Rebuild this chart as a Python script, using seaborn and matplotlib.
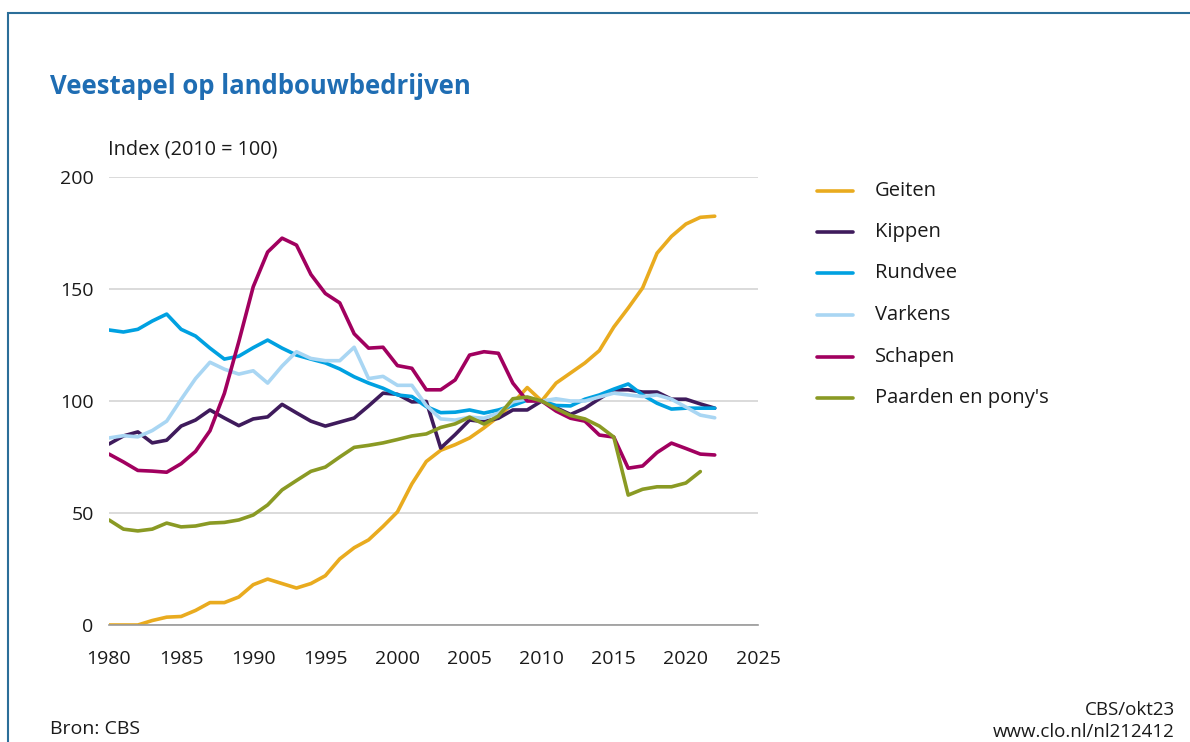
import numpy as np
import pandas as pd
import matplotlib
matplotlib.use("Agg")
from matplotlib import pyplot as plt
from matplotlib.patches import Rectangle
import seaborn as sns

# Data (index 2010 = 100)
years = list(range(1980, 2023))

geiten = [0, 0, 0, 2, 3.5, 3.8, 6.5, 10, 10, 12.5,
          18, 20.5, 18.5, 16.5, 18.5, 22, 29.5, 34.5, 38, 44,
          50.5, 63, 73, 78, 80.5, 83.5, 88, 93, 99, 106,
          100, 108, 112.5, 117, 122.5, 133, 141.5, 150.5, 166, 173.5,
          179, 182, 182.5]
kippen = [80.8, 84.4, 86.2, 81.3, 82.5, 88.8, 91.5, 96, 92.4, 89,
          92, 92.9, 98.5, 94.7, 91, 88.8, 90.6, 92.4, 97.8, 103.5,
          103, 99.6, 99.8, 79, 85, 91.5, 90.8, 92.3, 96, 96,
          100, 97, 94, 96.8, 101, 105, 105, 104, 104, 100.8,
          100.8, 98.7, 96.8]
rundvee = [131.7, 130.8, 132, 135.7, 138.8, 132, 129, 123.6, 118.7, 120,
           123.8, 127.2, 123.6, 120.5, 118.7, 117, 114.3, 110.8, 108, 105.7,
           102.7, 102, 97.5, 94.8, 95, 96, 94.6, 96, 98, 100.4,
           100, 98, 97.8, 100.8, 102.7, 105.3, 107.6, 102.7, 99, 96.4,
           96.8, 96.8, 96.8]
varkens = [83.5, 84.5, 84, 86.8, 91, 100.7, 110, 117.3, 114.2, 112,
           113.5, 108, 115.6, 122, 119, 118, 118, 124, 110, 111,
           107, 107, 98, 92, 91.5, 92.8, 92.3, 94.6, 99.6, 101,
           100, 101, 100, 100, 101.8, 103.5, 102.7, 102, 102.7, 100.8,
           97.3, 93.7, 92.5]
schapen = [76.3, 72.8, 69, 68.7, 68.2, 72, 77.5, 86.7, 103.4, 126.5,
           151, 166.5, 172.7, 169.6, 156.5, 148, 143.8, 130, 123.6, 124,
           115.8, 114.6, 105, 105, 109.4, 120.5, 122, 121.3, 108, 100,
           100, 95.5, 92.3, 91, 84.8, 83.9, 70, 71, 77, 81.2,
           78.8, 76.3, 75.9]
paarden = [46.9, 42.8, 42, 42.8, 45.5, 43.8, 44.2, 45.5, 45.8, 46.9,
           49.1, 53.6, 60.3, 64.5, 68.6, 70.5, 75, 79.3, 80.2, 81.3,
           82.8, 84.4, 85.3, 88.2, 89.8, 92.8, 89.7, 93.3, 101, 101.8,
           100, 96.6, 93.5, 92, 88.8, 83.9, 58, 60.6, 61.7, 61.7,
           63.4, 68.5, np.nan]

series_names = ["Geiten", "Kippen", "Rundvee", "Varkens", "Schapen", "Paarden en pony's"]
colors = ["#e9ab1f", "#3f1b5c", "#00a1e1", "#a9d6f3", "#a1005f", "#8a9a24"]

df = pd.DataFrame({
    "jaar": years * 6,
    "index": geiten + kippen + rundvee + varkens + schapen + paarden,
    "dier": [n for n in series_names for _ in years],
}).dropna()

sns.set_theme(style="white")
plt.rcParams["font.family"] = ["Open Sans", "DejaVu Sans"]

fig = plt.figure(figsize=(11.9, 7.42), dpi=100)
ax = fig.add_axes([109 / 1190, 1 - 625 / 742, (758 - 109) / 1190, (625 - 177) / 742])

sns.lineplot(data=df, x="jaar", y="index", hue="dier", hue_order=series_names,
             palette=colors, linewidth=2.6, ax=ax, legend=False)

ax.set_xlim(1980, 2025)
ax.set_ylim(0, 200)
ax.set_xticks(range(1980, 2026, 5))
ax.set_yticks([0, 50, 100, 150, 200])
ax.set_xlabel("")
ax.set_ylabel("")
ax.grid(axis="y", color="#d4d4d4", linewidth=1.2)
ax.grid(axis="x", visible=False)
ax.set_axisbelow(True)
for side in ["top", "right", "left"]:
    ax.spines[side].set_visible(False)
ax.spines["bottom"].set_color("#9a9a9a")
ax.spines["bottom"].set_linewidth(1.2)
ax.tick_params(axis="x", direction="out", length=11, width=1.2, color="#9a9a9a",
               labelsize=14, pad=7, labelcolor="#1a1a1a")
ax.tick_params(axis="y", length=0, labelsize=14, pad=11, labelcolor="#1a1a1a")

# legend, drawn by hand to the right of the plot
leg_y = [191, 232, 273, 315, 357, 398]
for name, col, yy in zip(series_names, colors, leg_y):
    yf = 1 - yy / 742
    fig.add_artist(plt.Line2D([817 / 1190, 853 / 1190], [yf, yf], color=col,
                              linewidth=2.6, transform=fig.transFigure))
    fig.text(875 / 1190, yf, name, fontsize=14.5, va="center", ha="left", color="#1a1a1a")

fig.text(50 / 1190, 1 - 86 / 742, "Veestapel op landbouwbedrijven", fontsize=18.5,
         fontweight="bold", color="#1f6db3", va="center", ha="left")
fig.text(108 / 1190, 1 - 150 / 742, "Index (2010 = 100)", fontsize=14.3,
         va="center", ha="left", color="#1a1a1a")
fig.text(50 / 1190, 1 - 729 / 742, "Bron: CBS", fontsize=14, va="center", ha="left",
         color="#1a1a1a")
fig.text(1175 / 1190, 1 - 710 / 742, "CBS/okt23", fontsize=13.5, va="center", ha="right",
         color="#1a1a1a")
fig.text(1175 / 1190, 1 - 732 / 742, "www.clo.nl/nl212412", fontsize=13.5, va="center",
         ha="right", color="#1a1a1a")

# frame around the graphic (left and top edges visible)
fig.add_artist(Rectangle((8 / 1190, -0.1), 1.2, 1.1 - 13 / 742, fill=False,
                         edgecolor="#2b6e99", linewidth=1.5, transform=fig.transFigure))

fig.savefig("out.png", dpi=100)
